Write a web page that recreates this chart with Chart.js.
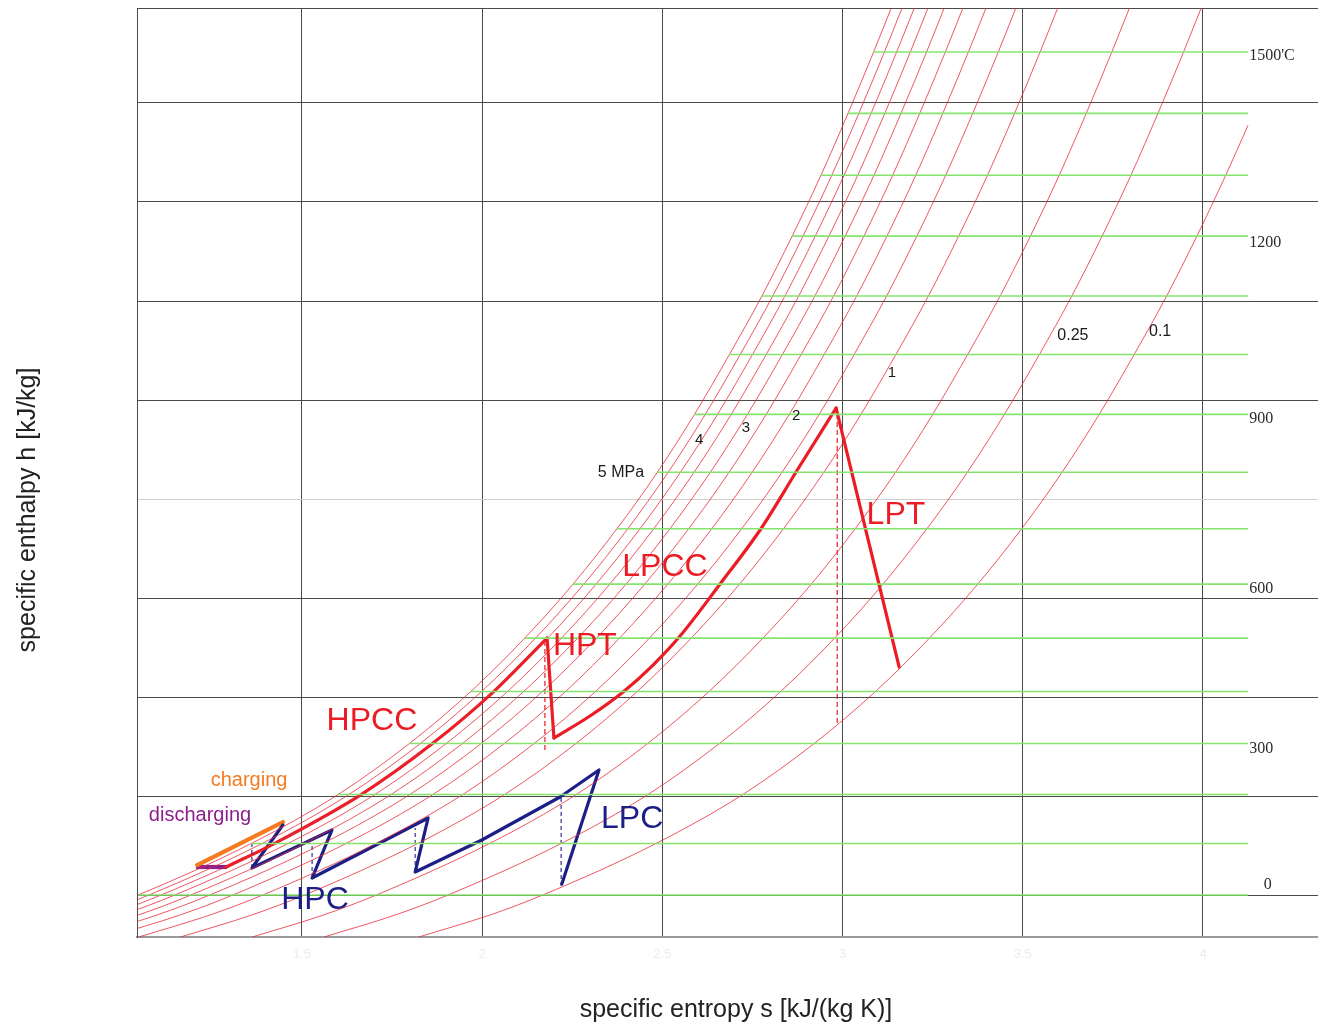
<!DOCTYPE html>
<html>
<head>
<meta charset="utf-8">
<script src="https://cdn.jsdelivr.net/npm/chart.js@4.4.1/dist/chart.umd.min.js"></script>
<style>
  html, body { margin: 0; padding: 0; background: #ffffff; }
  canvas { display: block; }
</style>
</head>
<body>
<canvas id="hs" width="1318" height="1025"></canvas>
<script>
// ---- axis ticks -------------------------------------------------------
const sTicks = [1.5, 2, 2.5, 3, 3.5, 4];
const hGrid = [0, 200, 400, 600, 800, 1000, 1200, 1400, 1600];

// ---- isotherms: temperature (°C), enthalpy level, start entropy --------
const isothermT = [0, 100, 200, 300, 400, 500, 600, 700, 800, 900, 1000, 1100, 1200, 1300, 1400, 1500];
const isothermH = [0, 104, 203, 306, 411, 519, 628, 740, 854, 971, 1092, 1210, 1331, 1454, 1579, 1703];
const isothermStartS = [1.045, 1.359, 1.600, 1.798, 1.968, 2.118, 2.252, 2.374, 2.486, 2.589, 2.686, 2.776, 2.860, 2.940, 3.015, 3.086];
const isothermEndS = 4.125;

// ---- isobars (MPa): entropy at each enthalpy level ----------------------
const isobarH = [-85, -40, 0, 104, 203, 306, 411, 519, 628, 740, 854, 971, 1092, 1210, 1331, 1454, 1579, 1703, 1792];
const isobar_5_0 = [0.700, 0.900, 1.045, 1.359, 1.600, 1.798, 1.968, 2.118, 2.252, 2.374, 2.486, 2.589, 2.686, 2.776, 2.860, 2.940, 3.015, 3.086, 3.135];
const isobar_4_5 = [0.730, 0.930, 1.075, 1.389, 1.630, 1.828, 1.998, 2.148, 2.282, 2.404, 2.516, 2.619, 2.716, 2.806, 2.890, 2.970, 3.045, 3.116, 3.165];
const isobar_4_0 = [0.764, 0.964, 1.109, 1.423, 1.664, 1.862, 2.032, 2.182, 2.316, 2.438, 2.550, 2.653, 2.750, 2.840, 2.924, 3.004, 3.079, 3.150, 3.199];
const isobar_3_5 = [0.802, 1.002, 1.147, 1.461, 1.702, 1.900, 2.070, 2.220, 2.354, 2.476, 2.588, 2.691, 2.788, 2.878, 2.962, 3.042, 3.117, 3.188, 3.237];
const isobar_3_0 = [0.847, 1.047, 1.192, 1.506, 1.747, 1.945, 2.115, 2.265, 2.399, 2.521, 2.633, 2.736, 2.833, 2.923, 3.007, 3.087, 3.162, 3.233, 3.282];
const isobar_2_5 = [0.899, 1.099, 1.244, 1.558, 1.799, 1.997, 2.167, 2.317, 2.451, 2.573, 2.685, 2.788, 2.885, 2.975, 3.059, 3.139, 3.214, 3.285, 3.334];
const isobar_2_0 = [0.963, 1.163, 1.308, 1.622, 1.863, 2.061, 2.231, 2.381, 2.515, 2.637, 2.749, 2.852, 2.949, 3.039, 3.123, 3.203, 3.278, 3.349, 3.398];
const isobar_1_5 = [1.046, 1.246, 1.391, 1.705, 1.946, 2.144, 2.314, 2.464, 2.598, 2.720, 2.832, 2.935, 3.032, 3.122, 3.206, 3.286, 3.361, 3.432, 3.481];
const isobar_1_0 = [1.162, 1.362, 1.507, 1.821, 2.062, 2.260, 2.430, 2.580, 2.714, 2.836, 2.948, 3.051, 3.148, 3.238, 3.322, 3.402, 3.477, 3.548, 3.597];
const isobar_0_5 = [1.361, 1.561, 1.706, 2.020, 2.261, 2.459, 2.629, 2.779, 2.913, 3.035, 3.147, 3.250, 3.347, 3.437, 3.521, 3.601, 3.676, 3.747, 3.796];
const isobar_0_25 = [1.560, 1.760, 1.905, 2.219, 2.460, 2.658, 2.828, 2.978, 3.112, 3.234, 3.346, 3.449, 3.546, 3.636, 3.720, 3.800, 3.875, 3.946, 3.995];
// the 0.1 MPa line stops at the right end of the isotherms
const isobarH_0_1 = [-85, -40, 0, 104, 203, 306, 411, 519, 628, 740, 854, 971, 1092, 1210, 1331, 1454, 1555];
const isobar_0_1 = [1.823, 2.023, 2.168, 2.482, 2.723, 2.921, 3.091, 3.241, 3.375, 3.497, 3.609, 3.712, 3.809, 3.899, 3.983, 4.063, 4.125];

// ---- storage cycle paths (s, h) ----------------------------------------
const hpccS = [1.290, 1.423, 1.664, 1.862, 2.032, 2.180];
const hpccH = [56.6, 104, 203, 306, 411, 519.2];
const hptS = [2.180, 2.199];
const hptH = [519.2, 317.2];
const lpccS = [2.199, 2.299, 2.391, 2.474, 2.549, 2.660, 2.771, 2.876, 2.982];
const lpccH = [317.2, 361.6, 410.1, 464.6, 523.2, 628.3, 737.4, 860.6, 983.8];
const lptS = [2.982, 3.157];
const lptH = [983.8, 460.6];

const compS = [1.447, 1.361, 1.583, 1.528, 1.850, 1.814, 1.999, 2.216, 2.324, 2.221];
const compH = [141.4, 54.5, 131.3, 34.3, 155.6, 46.5, 111.1, 198.0, 252.5, 22.2];

const chargingS = [1.209, 1.447];
const chargingH = [60.6, 147.5];
const dischargingS = [1.206, 1.292];
const dischargingH = [56.6, 56.6];

// isentropic reference lines (constant s): [s, hLow, hHigh]
const turbineIsentropes = [[2.174, 293.0, 515.2], [2.985, 347.5, 979.8]];
const compressorIsentropes = [[1.361, 54.5, 105.0], [1.528, 34.3, 101.0], [1.814, 46.5, 135.4], [2.219, 18.2, 198.0]];

// ---- colours ------------------------------------------------------------
const RED = '#ec1c24';
const THIN_RED = 'rgba(232, 40, 52, 0.78)';
const GREEN = '#86e46e';
const NAVY = '#1c2086';
const ORANGE = '#f47b20';
const PURPLE = '#8c1f8e';

const pts = (xs, ys) => xs.map((x, i) => ({ x: x, y: ys[i] }));

const datasets = [];

// isotherms
isothermH.forEach((h, i) => {
  datasets.push({
    data: [{ x: isothermStartS[i], y: h }, { x: isothermEndS, y: h }],
    borderColor: GREEN, borderWidth: 1.6, tension: 0
  });
});

// isobars
[isobar_5_0, isobar_4_5, isobar_4_0, isobar_3_5, isobar_3_0, isobar_2_5,
 isobar_2_0, isobar_1_5, isobar_1_0, isobar_0_5, isobar_0_25].forEach(s => {
  datasets.push({ data: pts(s, isobarH), borderColor: THIN_RED, borderWidth: 1, cubicInterpolationMode: 'monotone' });
});
datasets.push({ data: pts(isobar_0_1, isobarH_0_1), borderColor: THIN_RED, borderWidth: 1, cubicInterpolationMode: 'monotone' });

// dashed isentropes
turbineIsentropes.forEach(([s, lo, hi]) => {
  datasets.push({ data: [{ x: s, y: lo }, { x: s, y: hi }], borderColor: RED, borderWidth: 1.2, borderDash: [5, 3] });
});
compressorIsentropes.forEach(([s, lo, hi]) => {
  datasets.push({ data: [{ x: s, y: lo }, { x: s, y: hi }], borderColor: NAVY, borderWidth: 1.1, borderDash: [4, 3] });
});

// heat exchanger and machine paths
const thick = { borderWidth: 3.2, borderCapStyle: 'round', borderJoinStyle: 'round' };
datasets.push(Object.assign({ data: pts(hpccS, hpccH), borderColor: RED, cubicInterpolationMode: 'monotone' }, thick));
datasets.push(Object.assign({ data: pts(hptS, hptH), borderColor: RED }, thick));
datasets.push(Object.assign({ data: pts(lpccS, lpccH), borderColor: RED, cubicInterpolationMode: 'monotone' }, thick));
datasets.push(Object.assign({ data: pts(lptS, lptH), borderColor: RED }, thick));
datasets.push(Object.assign({ data: pts(compS, compH), borderColor: NAVY }, thick));
datasets.push({ data: pts(chargingS, chargingH), borderColor: ORANGE, borderWidth: 4.2, borderCapStyle: 'round' });
datasets.push({ data: pts(dischargingS, dischargingH), borderColor: PURPLE, borderWidth: 4.2, borderCapStyle: 'butt' });

datasets.forEach(d => { d.showLine = true; d.pointRadius = 0; d.fill = false; if (d.tension === undefined) d.tension = 0; });

// ---- text drawn at data coordinates ----------------------------------------
const SANS = '"Liberation Sans", Arial, Helvetica, sans-serif';
const SERIF = '"Liberation Serif", "Times New Roman", serif';
const chartTexts = [
  { t: 'HPCC', s: 1.694, h: 351.5, c: RED, f: '32px ' + SANS },
  { t: 'HPT', s: 2.285, h: 503.0, c: RED, f: '32px ' + SANS },
  { t: 'LPCC', s: 2.507, h: 662.6, c: RED, f: '32px ' + SANS },
  { t: 'LPT', s: 3.148, h: 767.7, c: RED, f: '32px ' + SANS },
  { t: 'charging', s: 1.353, h: 232.3, c: ORANGE, f: '20px ' + SANS },
  { t: 'discharging', s: 1.217, h: 161.6, c: PURPLE, f: '20px ' + SANS },
  { t: 'HPC', s: 1.536, h: -10.1, c: NAVY, f: '32px ' + SANS },
  { t: 'LPC', s: 2.416, h: 153.5, c: NAVY, f: '32px ' + SANS },
  { t: '5 MPa', s: 2.385, h: 852.5, c: '#1a1a1a', f: '16px ' + SANS },
  { t: '4', s: 2.602, h: 919.2, c: '#1a1a1a', f: '15px ' + SANS },
  { t: '3', s: 2.732, h: 943.4, c: '#1a1a1a', f: '15px ' + SANS },
  { t: '2', s: 2.871, h: 967.7, c: '#1a1a1a', f: '15px ' + SANS },
  { t: '1', s: 3.137, h: 1054.5, c: '#1a1a1a', f: '15px ' + SANS },
  { t: '0.25', s: 3.639, h: 1129.3, c: '#1a1a1a', f: '16px ' + SANS },
  { t: '0.1', s: 3.881, h: 1137.4, c: '#1a1a1a', f: '16px ' + SANS },
  { t: "1500'C", s: 4.128, h: 1695, c: '#2a2a2a', f: '16px ' + SERIF, a: 'left' },
  { t: '1200', s: 4.128, h: 1317, c: '#2a2a2a', f: '16px ' + SERIF, a: 'left' },
  { t: '900', s: 4.128, h: 961.6, c: '#2a2a2a', f: '16px ' + SERIF, a: 'left' },
  { t: '600', s: 4.128, h: 618.2, c: '#2a2a2a', f: '16px ' + SERIF, a: 'left' },
  { t: '300', s: 4.128, h: 295, c: '#2a2a2a', f: '16px ' + SERIF, a: 'left' },
  { t: '0', s: 4.180, h: 20.2, c: '#2a2a2a', f: '16px ' + SERIF }
];

const textPlugin = {
  id: 'hsTexts',
  afterDatasetsDraw(chart) {
    const ctx = chart.ctx;
    const xs = chart.scales.x, ys = chart.scales.y;
    ctx.save();
    ctx.textBaseline = 'middle';
    chartTexts.forEach(o => {
      ctx.font = o.f;
      ctx.fillStyle = o.c;
      ctx.textAlign = o.a || 'center';
      ctx.fillText(o.t, xs.getPixelForValue(o.s), ys.getPixelForValue(o.h));
    });
    ctx.restore();
  },
  afterDraw(chart) {
    const ctx = chart.ctx;
    ctx.save();
    ctx.fillStyle = '#222222';
    ctx.font = '25px ' + SANS;
    ctx.textAlign = 'center';
    ctx.textBaseline = 'middle';
    ctx.fillText('specific entropy s [kJ/(kg K)]', 736, 1010);
    ctx.translate(28, 510);
    ctx.rotate(-Math.PI / 2);
    ctx.fillText('specific enthalpy h [kJ/kg]', 0, 0);
    ctx.restore();
  }
};

const S_MIN = 1.04218, S_MAX = 4.31909;
const H_MIN = -84.8, H_MAX = 1791.9;

new Chart(document.getElementById('hs'), {
  type: 'scatter',
  data: { datasets: datasets },
  plugins: [textPlugin],
  options: {
    responsive: false,
    animation: false,
    events: [],
    layout: { padding: { top: 8, left: 0, right: 0, bottom: 0 } },
    plugins: { legend: { display: false }, tooltip: { enabled: false } },
    scales: {
      x: {
        type: 'linear', min: S_MIN, max: S_MAX,
        afterBuildTicks: s => { s.ticks = sTicks.map(v => ({ value: v })); },
        afterFit: s => { s.height = 88; },
        ticks: { color: '#ececec', font: { size: 13, family: SANS }, padding: 10, callback: v => String(v) },
        grid: { color: '#4a4a4a', lineWidth: 1, drawTicks: false },
        border: { display: true, color: '#9a9a9a', width: 2 },
        title: { display: false }
      },
      y: {
        type: 'linear', min: H_MIN, max: H_MAX,
        afterBuildTicks: s => { s.ticks = hGrid.concat([H_MAX]).map(v => ({ value: v })); },
        afterFit: s => { s.width = 137; },
        ticks: { display: false },
        grid: {
          color: c => (c.tick && c.tick.value === 800) ? '#cfcfcf' : '#4a4a4a',
          lineWidth: 1, drawTicks: false
        },
        border: { display: true, color: '#4a4a4a', width: 1 },
        title: { display: false }
      }
    }
  }
});
</script>
</body>
</html>
